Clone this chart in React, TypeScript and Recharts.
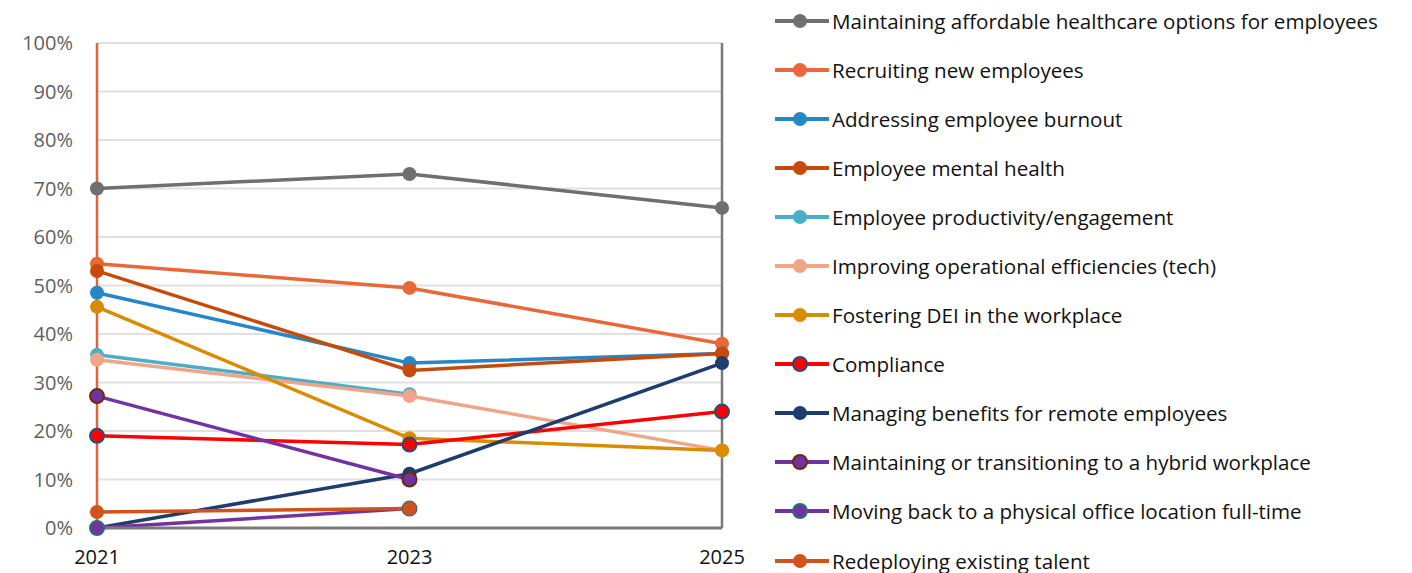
import React from "react"
import {
  LineChart,
  Line,
  XAxis,
  YAxis,
  CartesianGrid,
  ReferenceLine,
} from "recharts"

const years = [2021, 2023, 2025]

const healthcare = [70, 73, 66]
const recruiting = [54.5, 49.5, 38]
const burnout = [48.5, 34, 36]
const mentalHealth = [53, 32.5, 36]
const productivity = [35.7, 27.6, null]
const efficiencies = [34.7, 27.2, 16]
const dei = [45.6, 18.5, 16]
const compliance = [19, 17.2, 24]
const remoteBenefits = [0, 11.2, 34]
const hybrid = [27.2, 10, null]
const backToOffice = [0, 4, null]
const redeploying = [3.3, 4, null]

const yTicks = [0, 10, 20, 30, 40, 50, 60, 70, 80, 90, 100]

interface SeriesDef {
  key: string
  name: string
  values: (number | null)[]
  color: string
  dotStroke?: string
}

const series: SeriesDef[] = [
  { key: "healthcare", name: "Maintaining affordable healthcare options for employees", values: healthcare, color: "#6f6f6f" },
  { key: "recruiting", name: "Recruiting new employees", values: recruiting, color: "#e8683a" },
  { key: "burnout", name: "Addressing employee burnout", values: burnout, color: "#2586c8" },
  { key: "mental", name: "Employee mental health", values: mentalHealth, color: "#c64b0b" },
  { key: "productivity", name: "Employee productivity/engagement", values: productivity, color: "#4cadc8" },
  { key: "efficiencies", name: "Improving operational efficiencies (tech)", values: efficiencies, color: "#f1a588" },
  { key: "dei", name: "Fostering DEI in the workplace", values: dei, color: "#d98c00" },
  { key: "compliance", name: "Compliance", values: compliance, color: "#ff0000", dotStroke: "#245079" },
  { key: "remote", name: "Managing benefits for remote employees", values: remoteBenefits, color: "#1f3d6c" },
  { key: "hybrid", name: "Maintaining or transitioning to a hybrid workplace", values: hybrid, color: "#7232a2", dotStroke: "#6b2c0c" },
  { key: "office", name: "Moving back to a physical office location full-time", values: backToOffice, color: "#7232a2", dotStroke: "#2a6c7e" },
  { key: "redeploy", name: "Redeploying existing talent", values: redeploying, color: "#d0521c" },
]

const data = years.map((y, i) => {
  const row: Record<string, number | null> = { year: y }
  series.forEach((s) => {
    row[s.key] = s.values[i]
  })
  return row
})

const FONT = "'Open Sans', 'Noto Sans', sans-serif"

// legend sits outside the chart so it doesn't eat plot space
function LegendList() {
  return (
    <div style={{ position: "absolute", left: 775, top: -4, fontFamily: FONT }}>
      {series.map((s) => (
        <div
          key={s.key}
          style={{ display: "flex", alignItems: "center", height: 49.1 }}
        >
          <svg width={57} height={18} style={{ flexShrink: 0 }}>
            <line x1={0} y1={9} x2={54} y2={9} stroke={s.color} strokeWidth={4} />
            <circle
              cx={25}
              cy={9}
              r={7}
              fill={s.color}
              stroke={s.dotStroke ?? s.color}
              strokeWidth={s.dotStroke ? 2 : 0}
            />
          </svg>
          <span style={{ fontSize: 20.6, color: "#111", whiteSpace: "nowrap" }}>
            {s.name}
          </span>
        </div>
      ))}
    </div>
  )
}

export default function App() {
  return (
    <div style={{ position: "absolute", left: 0, top: 0, width: 1412, height: 573, background: "#fff" }}>
      <LineChart
        width={1412}
        height={573}
        data={data}
        margin={{ top: 43, right: 690, bottom: 0, left: 0 }}
      >
        <CartesianGrid vertical={false} stroke="#e0e0e0" strokeWidth={2} />
        <XAxis
          dataKey="year"
          type="number"
          domain={[2021, 2025]}
          ticks={years}
          height={45}
          axisLine={{ stroke: "#7a7a7a", strokeWidth: 3 }}
          tickLine={false}
          tickMargin={16}
          tick={{ fontSize: 20, fill: "#111", fontFamily: FONT }}
        />
        <YAxis
          type="number"
          domain={[0, 100]}
          ticks={yTicks}
          width={97}
          axisLine={{ stroke: "#e0643a", strokeWidth: 2.5 }}
          tickLine={false}
          tickSize={6}
          tickMargin={18}
          tickFormatter={(v: number) => `${v}%`}
          tick={{ fontSize: 20, fill: "#5f5f5f", fontFamily: FONT }}
        />
        <ReferenceLine x={2025} stroke="#7a7a7a" strokeWidth={2.5} />
        {series.map((s) => (
          <Line
            key={s.key}
            dataKey={s.key}
            name={s.name}
            type="linear"
            stroke={s.color}
            strokeWidth={3.5}
            dot={{
              r: 7,
              fill: s.color,
              stroke: s.dotStroke ?? s.color,
              strokeWidth: s.dotStroke ? 2 : 0,
              fillOpacity: 1,
            }}
            activeDot={false}
            isAnimationActive={false}
          />
        ))}
      </LineChart>
      <LegendList />
    </div>
  )
}
